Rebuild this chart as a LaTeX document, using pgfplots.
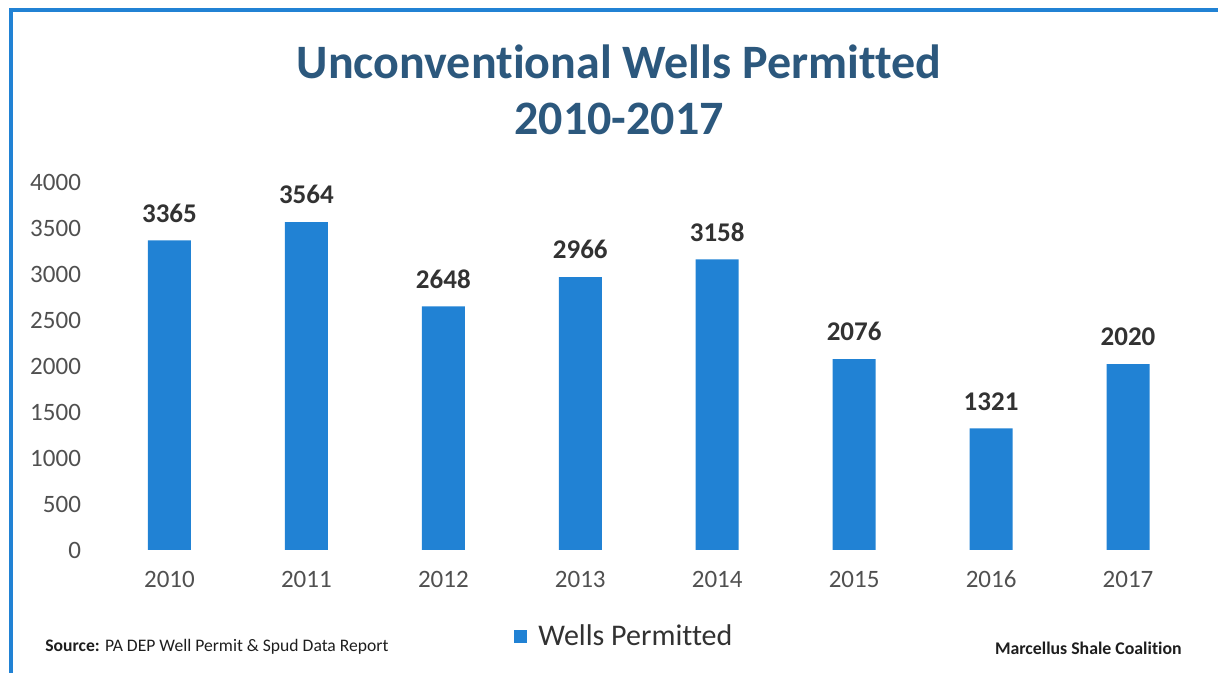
\documentclass[border=0pt]{standalone}
\usepackage{pgfplots}
\pgfplotsset{compat=1.18}
\usepackage{fontspec}
\setmainfont{Carlito}[Ligatures=NoCommon]
\definecolor{barblue}{RGB}{33,130,212}
\definecolor{titleblue}{RGB}{44,88,125}
\definecolor{ticktext}{RGB}{80,80,80}
\definecolor{labtext}{RGB}{50,50,50}
\definecolor{srctext}{RGB}{30,30,30}
\begin{document}
\begin{tikzpicture}
\path[use as bounding box] (0,0) rectangle (609pt,336.5pt);
\draw[barblue, line width=2pt] (5.25pt,0) -- (5.25pt,331.25pt) -- (609pt,331.25pt);
\node[font=\fontsize{24}{28}\selectfont\bfseries, text=titleblue] at (309.5pt,305.5pt) {Unconventional Wells Permitted};
\node[font=\fontsize{24}{28}\selectfont\bfseries, text=titleblue] at (309.5pt,277pt) {2010-2017};
\begin{axis}[
  at={(50.5pt,61.5pt)}, anchor=south west,
  scale only axis, width=547.75pt, height=184pt,
  xmin=-0.5, xmax=7.5, ymin=0, ymax=4000,
  axis line style={draw=none},
  major tick length=0pt,
  xtick=data,
  xticklabels={2010,2011,2012,2013,2014,2015,2016,2017},
  ytick={0,500,...,4000},
  /pgf/number format/assume math mode=true,
  /pgf/number format/1000 sep={},
  ticklabel style={font=\fontsize{12.5}{15}\selectfont, text=ticktext},
  yticklabel style={xshift=-6.5pt},
  xticklabel style={yshift=-7pt},
  ybar, bar width=21.5pt,
  nodes near coords,
  every node near coord/.append style={font=\fontsize{13.5}{16}\selectfont\bfseries, text=labtext, yshift=5.5pt},
  legend style={at={(0.377,-0.236)}, anchor=west, draw=none, fill=none, font=\fontsize{15}{18}\selectfont, text=labtext, inner sep=0pt},
  legend image code/.code={\fill[barblue] (0pt,-3.25pt) rectangle (6.5pt,3.25pt); \path (10pt,0pt);},
]
\addplot[fill=barblue, draw=none] coordinates {(0,3365) (1,3564) (2,2648) (3,2966) (4,3158) (5,2076) (6,1321) (7,2020)};
\addlegendentry{Wells Permitted}
\end{axis}
\node[anchor=west, inner sep=0pt, font=\fontsize{8.8}{10}\selectfont, text=srctext] at (22.5pt,13pt) {\textbf{Source:} PA DEP Well Permit \& Spud Data Report};
\node[anchor=east, inner sep=0pt, font=\fontsize{8.9}{10}\selectfont\bfseries, text=srctext] at (591pt,12.5pt) {Marcellus Shale Coalition};
\end{tikzpicture}
\end{document}
